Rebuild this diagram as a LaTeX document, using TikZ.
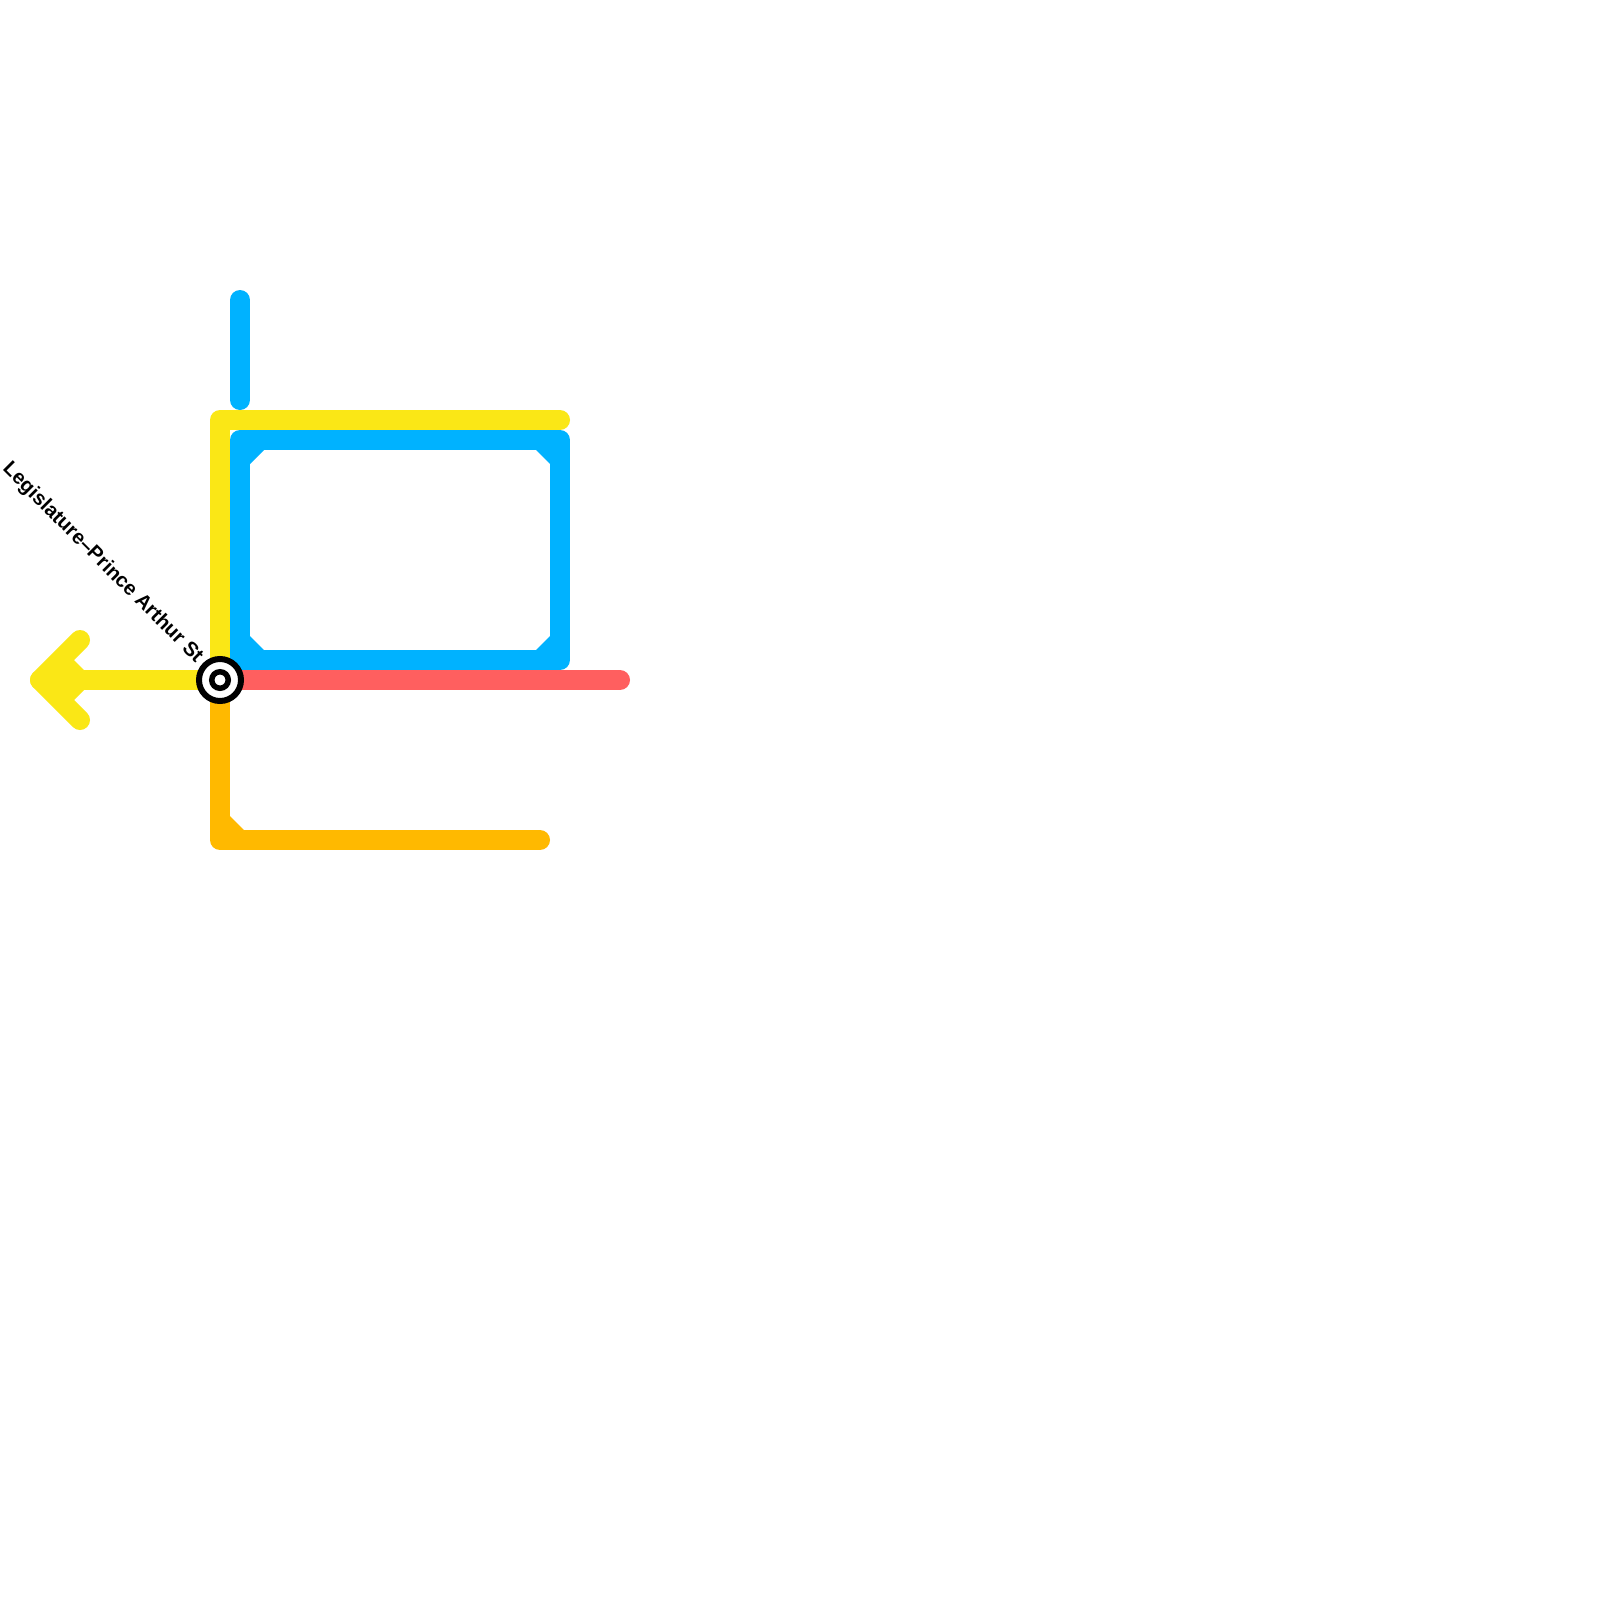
\documentclass[tikz,border=0pt]{standalone}
\usepackage{fontspec}
\setmainfont{Liberation Sans}
\definecolor{lineyellow}{HTML}{FAE716}
\definecolor{lineblue}{HTML}{00B2FF}
\definecolor{linered}{HTML}{FF5F5F}
\definecolor{lineorange}{HTML}{FFB900}
\tikzset{
  metro/.style={line width=20pt,line cap=round,line join=round},
  stationouter/.style={circle,draw=black,fill=white,line width=6pt,minimum size=42pt,inner sep=0pt},
  stationinner/.style={circle,draw=black,fill=white,line width=5.5pt,minimum size=16.5pt,inner sep=0pt},
  stationlabel/.style={font=\bfseries\fontsize{20.2}{24}\selectfont,rotate=-45,anchor=east,inner sep=0pt}
}
\begin{document}
\begin{tikzpicture}[x=1pt,y=-1pt]
\useasboundingbox (0,0) rectangle (1600,1600);
\fill[white] (0,0) rectangle (1600,1600);
% coordinates
\coordinate (st) at (220,680);
\coordinate (tip) at (40,680);
\coordinate (armT) at (80,640);
\coordinate (armB) at (80,720);
\coordinate (yTL) at (220,420);
\coordinate (yR) at (560,420);
\coordinate (bS1) at (240,300);
\coordinate (bS2) at (240,400);
\coordinate (bTL) at (240,440);
\coordinate (bTR) at (560,440);
\coordinate (bBR) at (560,660);
\coordinate (bBL) at (240,660);
\coordinate (rE) at (620,680);
\coordinate (oC) at (220,840);
\coordinate (oE) at (540,840);
% yellow
\draw[metro,lineyellow] (st) -- (yTL) -- (yR);
\draw[metro,lineyellow] (st) -- (tip);
\draw[metro,lineyellow] (armT) -- (tip) -- (armB);
\fill[lineyellow] (60,660) -- (74,660) -- (84,670) -- (84,690) -- (74,700) -- (60,700) -- cycle;
% blue
\draw[metro,lineblue] (bS1) -- (bS2);
\draw[metro,lineblue] (bTL) -- (bTR) -- (bBR) -- (bBL) -- cycle;
\fill[lineblue] (249,449) -- (264,449) -- (264,450) -- (250,464) -- (249,464) -- cycle;
\fill[lineblue] (551,449) -- (536,449) -- (536,450) -- (550,464) -- (551,464) -- cycle;
\fill[lineblue] (249,651) -- (264,651) -- (264,650) -- (250,636) -- (249,636) -- cycle;
\fill[lineblue] (551,651) -- (536,651) -- (536,650) -- (550,636) -- (551,636) -- cycle;
% red
\draw[metro,linered] (st) -- (rE);
% orange
\draw[metro,lineorange] (st) -- (oC) -- (oE);
\fill[lineorange] (229,815) -- (230,816) -- (244,830) -- (244,831) -- (229,831) -- cycle;
% station
\node[stationouter] (outer) at (st) {};
\node[stationinner] (inner) at (st) {};
\node[stationlabel] (label) at (199.5,660) {Legislature–Prince Arthur St};
\end{tikzpicture}
\end{document}
